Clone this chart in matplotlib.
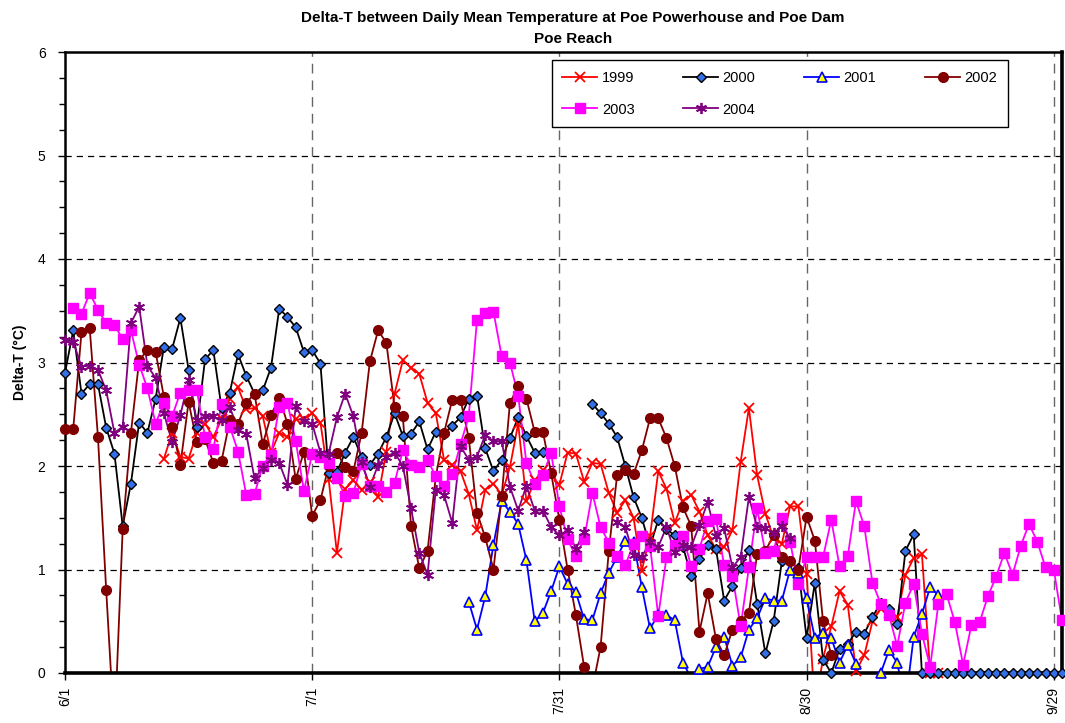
import numpy as np
import matplotlib.pyplot as plt
from matplotlib.lines import Line2D

plt.rcParams['font.family'] = ['Liberation Sans', 'DejaVu Sans']

nan = np.nan
# day index 0 = 6/1
tick_days = [0, 30, 60, 90, 120]
tick_labels = ['6/1', '7/1', '7/31', '8/30', '9/29']

start_1999 = 12
dt_1999 = [2.07, 2.32, 2.09, 2.07, 2.32, 2.41, 2.28, 2.45, 2.65, 2.76,
           2.55, 2.56, 2.48, 2.13, 2.32, 2.28, 2.45, 2.45, 2.51, 2.42,
           1.87, 1.16, 1.78, 1.86, 1.77, 1.85, 1.70, 2.14, 2.70, 3.02,
           2.95, 2.89, 2.61, 2.51, 2.06, 2.01, 1.95, 1.73, 1.38, 1.77,
           1.83, 1.72, 1.99, 2.41, 1.66, 1.86, 1.96, 1.91, 1.82, 2.13,
           2.12, 1.85, 2.03, 2.02, 1.74, 1.55, 1.67, 1.50, 0.99, 1.32,
           1.95, 1.78, 1.45, 1.66, 1.72, 1.56, 1.33, 1.20, 1.22, 1.38,
           2.04, 2.56, 1.91, 1.54, 1.30, 1.25, 1.61, 1.61, 0.96, -0.33,
           0.14, 0.45, 0.79, 0.66, 0.02, 0.17, 0.50, 0.62, 0.58, 0.54,
           0.95, 1.11, 1.15, 0.0, 0.0]

start_2000 = 0
dt_2000 = [2.90, 3.31, 2.70, 2.79, 2.79, 2.37, 2.12, 1.42, 1.83, 2.42,
           2.32, 2.65, 3.15, 3.13, 3.43, 2.93, 2.38, 3.03, 3.12, 2.56,
           2.71, 3.08, 2.87, 2.70, 2.73, 2.95, 3.52, 3.44, 3.34, 3.10,
           3.12, 2.99, 1.93, 1.94, 2.13, 2.28, 2.09, 2.01, 2.12, 2.28,
           2.51, 2.29, 2.31, 2.43, 2.16, 2.33, 2.31, 2.39, 2.47, 2.65,
           2.68, 2.17, 1.95, 2.06, 2.27, 2.47, 2.29, 2.13, 2.14, nan,
           nan, nan, nan, nan, 2.60, 2.51, 2.41, 2.28, 2.00, 1.70,
           1.50, 1.22, 1.48, 1.39, 1.33, 1.22, 0.94, 1.10, 1.24, 1.20,
           0.70, 0.84, 1.01, 1.19, 0.67, 0.19, 0.50, 1.08, 1.08, 1.01,
           0.34, 0.87, 0.13, 0.00, 0.23, 0.28, 0.40, 0.38, 0.54, 0.68,
           0.62, 0.47, 1.18, 1.34, 0, 0, 0, 0, 0, 0,
           0, 0, 0, 0, 0, 0, 0, 0, 0, 0,
           0, 0]

start_2001 = 49
dt_2001 = [0.69, 0.42, 0.74, 1.24, 1.66, 1.56, 1.44, 1.09, 0.50, 0.58,
           0.79, 1.03, 0.86, 0.78, 0.52, 0.51, 0.77, 0.97, 1.12, 1.28,
           1.27, 0.83, 0.43, 0.56, 0.56, 0.51, 0.10, -0.05, 0.04, 0.06,
           0.25, 0.35, 0.07, 0.15, 0.42, 0.53, 0.72, 0.70, 0.70, 1.00,
           0.97, 0.72, 0.34, 0.39, 0.34, 0.10, 0.27, 0.09, -0.25, -0.25,
           0.00, 0.22, 0.10, -0.30, 0.35, 0.57, 0.83, 0.75]

start_2002 = 0
dt_2002 = [2.36, 2.36, 3.29, 3.33, 2.28, 0.80, -0.58, 1.39, 2.32, 3.02,
           3.12, 3.10, 2.67, 2.38, 2.01, 2.62, 2.23, 2.26, 2.03, 2.05,
           2.44, 2.41, 2.61, 2.70, 2.21, 2.49, 2.66, 2.41, 1.87, 2.14,
           1.52, 1.67, 2.00, 2.13, 1.99, 1.95, 2.32, 3.01, 3.31, 3.19,
           2.57, 2.48, 1.42, 1.01, 1.18, 1.90, 2.32, 2.64, 2.64, 2.27,
           1.55, 1.31, 1.00, 1.71, 2.61, 2.77, 2.65, 2.33, 2.33, 1.93,
           1.48, 1.00, 0.56, 0.06, -0.15, 0.25, 1.18, 1.91, 1.96, 1.92,
           2.15, 2.46, 2.46, 2.27, 2.00, 1.60, 1.42, 0.40, 0.77, 0.33,
           0.17, 0.42, 0.50, 0.58, 1.15, 1.18, 1.33, 1.12, 1.08, 1.00,
           1.51, 1.28, 0.50, 0.17]

start_2003 = 1
dt_2003 = [3.53, 3.47, 3.67, 3.51, 3.38, 3.36, 3.23, 3.31, 2.98,
           2.75, 2.41, 2.61, 2.48, 2.71, 2.73, 2.73, 2.28, 2.16, 2.60,
           2.38, 2.14, 1.72, 1.73, 2.00, 2.11, 2.57, 2.61, 2.24, 1.76,
           2.12, 2.09, 2.03, 1.88, 1.71, 1.74, 2.02, 1.81, 1.81, 1.75,
           1.84, 2.15, 2.01, 1.99, 2.06, 1.90, 1.81, 1.92, 2.21, 2.48,
           3.41, 3.48, 3.49, 3.06, 3.00, 2.68, 2.03, 1.83, 1.91, 2.13,
           1.61, 1.29, 1.13, 1.29, 1.74, 1.41, 1.26, 1.13, 1.04, 1.25,
           1.32, 1.23, 0.55, 1.12, 1.24, 1.32, 1.03, 1.20, 1.47, 1.49,
           1.04, 0.94, 0.45, 1.02, 1.59, 1.16, 1.18, 1.50, 1.27, 0.86,
           1.12, 1.12, 1.12, 1.48, 1.03, 1.13, 1.66, 1.42, 0.87, 0.67,
           0.56, 0.26, 0.68, 0.86, 0.38, 0.06, 0.67, 0.76, 0.49, 0.08,
           0.46, 0.49, 0.74, 0.93, 1.16, 0.95, 1.23, 1.44, 1.27, 1.02,
           1.00, 0.51]

start_2004 = 0
dt_2004 = [3.22, 3.20, 2.96, 2.97, 2.93, 2.73, 2.32, 2.38, 3.38, 3.54,
           2.97, 2.85, 2.51, 2.23, 2.49, 2.83, 2.44, 2.48, 2.48, 2.44,
           2.57, 2.35, 2.31, 1.88, 1.98, 2.06, 2.03, 1.82, 2.58, 2.43,
           2.41, 2.13, 2.12, 2.47, 2.70, 2.48, 2.04, 1.80, 2.01, 2.09,
           2.13, 2.00, 1.59, 1.16, 0.95, 1.77, 1.72, 1.45, 2.19, 2.06,
           2.09, 2.30, 2.24, 2.24, 1.80, 1.57, 1.81, 1.57, 1.57, 1.41,
           1.33, 1.38, 1.20, 1.36, nan, nan, nan, 1.46, 1.41, 1.14,
           1.12, 1.27, 1.22, 1.41, 1.17, 1.24, 1.22, 1.43, 1.65, 1.32,
           1.40, 1.02, 1.12, 1.70, 1.41, 1.40, 1.35, 1.42, 1.30]

series = [
    ('1999', start_1999, dt_1999, dict(color='#FF0000', marker='x', mfc='#FF0000', mec='#FF0000', ms=7, mew=1.3)),
    ('2000', start_2000, dt_2000, dict(color='black', marker='D', mfc='#3370E8', mec='black', ms=5.5, mew=1.0)),
    ('2001', start_2001, dt_2001, dict(color='#0000FF', marker='^', mfc='#FFFF00', mec='#0000FF', ms=6.5, mew=1.2)),
    ('2002', start_2002, dt_2002, dict(color='#800000', marker='o', mfc='#800000', mec='#800000', ms=7)),
    ('2003', start_2003, dt_2003, dict(color='#FF00FF', marker='s', mfc='#FF00FF', mec='#FF00FF', ms=7)),
    ('2004', start_2004, dt_2004, dict(color='#800080', marker=(6, 2, 0), mfc='#800080', mec='#800080', ms=8, mew=1.3)),
]

fig = plt.figure(figsize=(10.65, 7.23), dpi=100)
ax = fig.add_axes([65 / 1065, 50 / 723, 997 / 1065, 621 / 723])

handles = {}
for name, start, vals, st in series:
    v = np.array(vals, dtype=float)
    d = np.arange(start, start + len(v))
    ax.plot(d, v, lw=1.3, color=st['color'])
    vm = np.where(v >= 0, v, np.nan)
    ax.plot(d, vm, ls='none', clip_on=False, zorder=3,
            **{k: val for k, val in st.items() if k != 'color'})
    handles[name] = Line2D([], [], lw=1.3, **st)

ax.set_xlim(0, 121)
ax.set_ylim(0, 6)
ax.set_xticks(tick_days)
ax.set_xticklabels(tick_labels, rotation=90, fontsize=10)
ax.set_yticks(range(0, 7))
ax.set_yticks(np.arange(0, 6.01, 0.25), minor=True)
ax.tick_params(axis='y', labelsize=10, length=5, width=1, pad=9)
ax.tick_params(axis='y', which='minor', length=4, width=1)
ax.tick_params(axis='x', length=5, width=1, pad=5)

for y in range(1, 6):
    ax.axhline(y, color='black', lw=0.9, ls=(0, (5, 4)), zorder=0)
for x in tick_days[1:]:
    ax.axvline(x, color='#666666', lw=1.0, ls=(0, (7, 5)), zorder=0)

for s in ['left', 'top']:
    ax.spines[s].set_linewidth(1.8)
for s in ['right', 'bottom']:
    ax.spines[s].set_linewidth(2.6)

ax.set_ylabel('Delta-T (°C)', fontsize=10, fontweight='bold', labelpad=8)
fig.text(0.538, 0.975, 'Delta-T between Daily Mean Temperature at Poe Powerhouse and Poe Dam',
         ha='center', va='center', fontsize=11, fontweight='bold')
fig.text(0.538, 0.946, 'Poe Reach', ha='center', va='center', fontsize=11, fontweight='bold')

# legend filled column-wise, so order gives rows 1999..2002 / 2003, 2004
leg_order = ['1999', '2003', '2000', '2004', '2001', '2002']
leg = ax.legend([handles[k] for k in leg_order], leg_order, ncol=4, loc='upper left',
                bbox_to_anchor=(0.488, 0.882, 0.458, 0.105), mode='expand',
                fontsize=10.5, frameon=True, fancybox=False, framealpha=1,
                edgecolor='black', handlelength=2.4, handletextpad=0.3,
                borderaxespad=0, labelspacing=1.2, borderpad=0.75)
leg.get_frame().set_linewidth(1.0)
leg.set_zorder(5)

plt.savefig('out.png', dpi=100)
